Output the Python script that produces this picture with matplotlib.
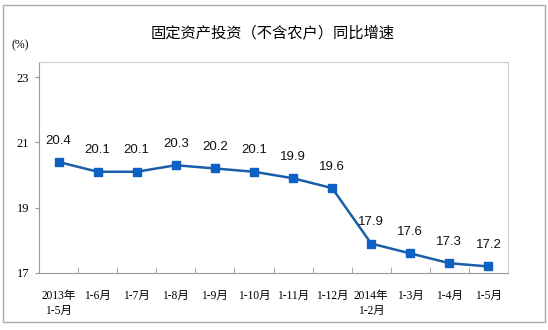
import matplotlib
matplotlib.use("Agg")
import matplotlib.pyplot as plt
from matplotlib.patches import Rectangle

categories = ["2013年\n1-5月", "1-6月", "1-7月", "1-8月", "1-9月", "1-10月",
              "1-11月", "1-12月", "2014年\n1-2月", "1-3月", "1-4月", "1-5月"]
growth = [20.4, 20.1, 20.1, 20.3, 20.2, 20.1, 19.9, 19.6, 17.9, 17.6, 17.3, 17.2]
yticks = [17, 19, 21, 23]

serif_cjk = ["Liberation Serif", "Noto Sans CJK SC"]

fig = plt.figure(figsize=(5.48, 3.30), dpi=100)
W, H = 548, 330
ax = fig.add_axes([39 / W, 1 - 273 / H, (508 - 39) / W, (273 - 62) / H])

x = list(range(len(categories)))
ax.plot(x, growth, color="#1b5ea8", lw=1.8, marker="s", ms=6,
        markerfacecolor="#0b62c4", markeredgecolor="#0b62c4", zorder=3)
for xi, v in zip(x, growth):
    ax.annotate(f"{v:.1f}", (xi, v), xytext=(0, 11), textcoords="offset points",
                ha="center", va="bottom", fontsize=9.5, family="Liberation Sans",
                color="#111111")

ax.set_xlim(-0.5, len(categories) - 0.5)
ax.set_ylim(17, 23.46)
ax.set_yticks(yticks)
ax.set_yticklabels([str(t) for t in yticks], family="Liberation Serif", fontsize=9)
ax.tick_params(axis="y", direction="out", length=3, color="#999999", pad=4)

# category boundaries as minor ticks, labels at centres
ax.set_xticks([i + 0.5 for i in range(len(categories) - 1)], minor=True)
ax.set_xticks(x)
ax.set_xticklabels(categories, family=serif_cjk, fontsize=8.3, linespacing=1.35)
ax.tick_params(axis="x", which="major", length=0, pad=12)
ax.tick_params(axis="x", which="minor", direction="in", length=4, color="#999999")

for side in ["left", "bottom"]:
    ax.spines[side].set_color("#999999")
for side in ["top", "right"]:
    ax.spines[side].set_color("#cccccc")

fig.text(273 / W, 1 - 33 / H, "固定资产投资（不含农户）同比增速",
         ha="center", va="center", fontsize=11, family="Noto Sans CJK SC")
fig.text(20 / W, 1 - 45 / H, "(%)", ha="center", va="center", fontsize=8.5,
         family="Liberation Serif")

fig.patches.append(Rectangle((3 / W, 1 - 322 / H), 542 / W, 317 / H,
                             transform=fig.transFigure, fill=False,
                             edgecolor="#aaaaaa", lw=1))

fig.savefig("out.png", dpi=100, facecolor="white")
